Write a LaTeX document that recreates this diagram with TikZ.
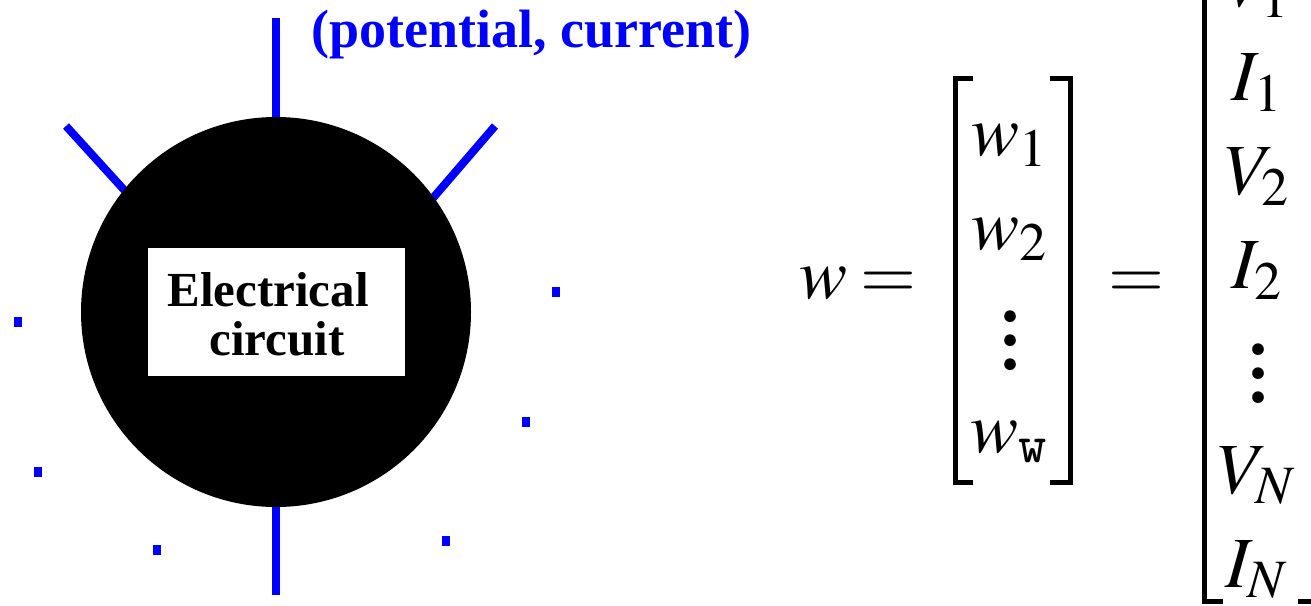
\documentclass[12pt,tikz,border=0pt]{standalone}
\usepackage{mathptmx}
\usepackage{fontspec}
\setmainfont{Liberation Serif}
\usepackage{graphicx}
\newcommand\BigM[1]{\scalebox{6}{$#1$}}
\newcommand\bvdots{\vbox{\baselineskip4pt\lineskiplimit0pt\kern6pt\hbox{\bfseries.}\hbox{\bfseries.}\hbox{\bfseries.}}}
\begin{document}
\begin{tikzpicture}[x=1pt,y=-1pt,
  wire/.style={blue, line width=8pt},
  pin/.style={fill=blue, draw=none, minimum width=8pt, minimum height=10pt, inner sep=0pt},
  brk/.style={line width=5pt, line cap=butt, line join=miter},
  mth/.style={inner sep=0pt, anchor=base},
  lbl/.style={inner sep=0pt, anchor=base, font=\fontsize{49}{49}\selectfont\bfseries},
]
\path[use as bounding box] (0,0) rectangle (1311,605);
\clip (0,0) rectangle (1311,605);
% wires (drawn first, the circle covers their inner parts)
\coordinate (ctr) at (276,312);
\coordinate (tEnd) at (276,18);
\coordinate (bEnd) at (276,595);
\coordinate (lEnd) at (66,126);
\coordinate (lIn) at (156,225);
\coordinate (rEnd) at (495,126);
\coordinate (rIn) at (402,234);
\draw[wire] (ctr) -- (tEnd);
\draw[wire] (ctr) -- (bEnd);
\draw[wire] (lIn) -- (lEnd);
\draw[wire] (rIn) -- (rEnd);
% circuit body
\node[circle, fill=black, minimum size=390pt, inner sep=0pt] (c) at (ctr) {};
\node[fill=white, minimum width=257pt, minimum height=128pt, inner sep=0pt] (box) at (276.5,312) {};
\node[lbl] (l1) at (268,306) {Electrical};
\node[lbl] (l2) at (277,355) {circuit};
% terminals shown as dots
\node[pin] (p1) at (18,322) {};
\node[pin] (p2) at (38,472) {};
\node[pin] (p3) at (157,550) {};
\node[pin] (p4) at (446,541) {};
\node[pin] (p5) at (526,422) {};
\node[pin] (p6) at (555.5,292) {};
% label
\node[blue, inner sep=0pt, anchor=base west, font=\fontsize{54}{54}\selectfont\bfseries] (lab) at (311,47) {(potential, current)};
% equation
\node[mth] (w) at (823,298) {\BigM{w}};
\node[mth] (eq1) at (888,298) {\BigM{=}};
\node[mth] (eq2) at (1136,298) {\BigM{=}};
\node[mth] (w1) at (1010,155) {\BigM{w_1}};
\node[mth] (w2) at (1010,249) {\BigM{w_2}};
\node[mth] (wd) at (1010,369) {\BigM{\bvdots}};
\node[mth] (ww) at (1010,452) {\BigM{w_{\mathtt{w}}}};
\draw[brk] (973,78) -- (955,78) -- (955,482) -- (973,482);
\draw[brk] (1050,78) -- (1070,78) -- (1070,482) -- (1050,482);
\node[mth] (V1) at (1258,6) {\BigM{V_1}};
\node[mth] (I1) at (1258,100) {\BigM{I_1}};
\node[mth] (V2) at (1258,194) {\BigM{V_2}};
\node[mth] (I2) at (1258,288) {\BigM{I_2}};
\node[mth] (vd) at (1258,402) {\BigM{\bvdots}};
\node[mth] (VN) at (1258,493) {\BigM{V_N}};
\node[mth] (IN) at (1258,587) {\BigM{I_N}};
\draw[brk] (1204,-60) -- (1204,601) -- (1223,601);
\draw[brk] (1298,601) -- (1318,601) -- (1318,-60);
\end{tikzpicture}
\end{document}
